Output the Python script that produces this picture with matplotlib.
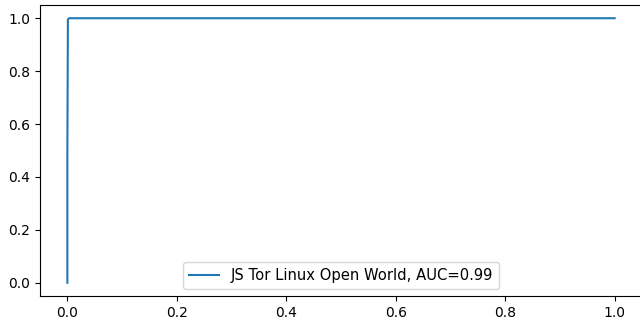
import matplotlib
matplotlib.use('Agg')
import matplotlib.pyplot as plt

fpr = [0.0, 0.0, 0.001, 0.003, 1.0]
tpr = [0.0, 0.5, 0.995, 1.0, 1.0]
label = 'JS Tor Linux Open World, AUC=0.99'

fig = plt.figure(figsize=(6.4, 3.22), dpi=100)
# the original figure is cropped on the right, so the axes run past the edge
ax = fig.add_axes([40 / 640, 26 / 322, 602 / 640, 291 / 322])
ax.plot(fpr, tpr, label=label)
ax.legend(loc='lower center', fontsize=10.6)
fig.savefig('out.png', dpi=100)
